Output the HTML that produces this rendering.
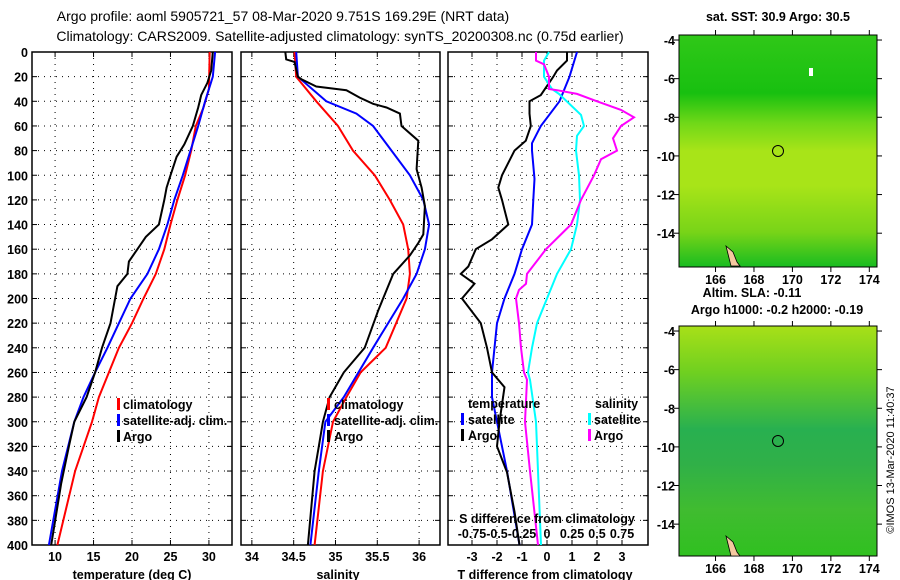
<!DOCTYPE html>
<html><head><meta charset="utf-8"><style>
body{margin:0;background:#fff;}
svg{display:block;font-family:"Liberation Sans",sans-serif;}
text{font-size:12.5px;fill:#000;font-weight:bold;}
</style></head><body>
<svg id="chart" width="900" height="580" viewBox="0 0 900 580" xmlns="http://www.w3.org/2000/svg">
<defs>
<linearGradient id="g1" x1="0" y1="0" x2="0" y2="1">
<stop offset="0" stop-color="#30c818"/><stop offset="0.25" stop-color="#18c010"/><stop offset="0.38" stop-color="#70d818"/><stop offset="0.5" stop-color="#a8e418"/><stop offset="0.65" stop-color="#a8e418"/><stop offset="0.85" stop-color="#78d418"/><stop offset="1" stop-color="#18bc20"/>
</linearGradient>
<linearGradient id="g2" x1="0" y1="0" x2="0" y2="1">
<stop offset="0" stop-color="#a8e018"/><stop offset="0.2" stop-color="#70d020"/><stop offset="0.45" stop-color="#28b050"/><stop offset="0.6" stop-color="#30b048"/><stop offset="0.8" stop-color="#40bc30"/><stop offset="1" stop-color="#30c020"/>
</linearGradient>
</defs>
<text x="283" y="21" text-anchor="middle" style="font-size:14px;font-weight:normal">Argo profile: aoml 5905721_57 08-Mar-2020 9.751S 169.29E (NRT data)</text>
<text x="340" y="41" text-anchor="middle" style="font-size:14px;font-weight:normal">Climatology: CARS2009. Satellite-adjusted climatology: synTS_20200308.nc (0.75d earlier)</text>
<g id="plots"></g>
<rect x="679" y="35" width="198" height="232" fill="url(#g1)" stroke="#000"/>
<rect x="679" y="326" width="198" height="230" fill="url(#g2)" stroke="#000"/>
<rect x="809" y="68" width="4" height="8" fill="#fff"/>
<path d="M726,246 L733,252 L737,262 L740,266 L731,266 Z" fill="#f5c8a0" stroke="#000" stroke-width="0.8"/>
<path d="M726,536 L733,542 L737,552 L740,556 L731,556 Z" fill="#f5c8a0" stroke="#000" stroke-width="0.8"/>
<circle cx="778" cy="151" r="5.5" fill="none" stroke="#000"/>
<circle cx="778" cy="441" r="5.5" fill="none" stroke="#000"/>
<text x="778" y="21" text-anchor="middle">sat. SST: 30.9 Argo: 30.5</text>
<text x="752" y="297" text-anchor="middle">Altim. SLA: -0.11</text>
<text x="777" y="314" text-anchor="middle">Argo h1000: -0.2 h2000: -0.19</text>
<text transform="translate(894,460) rotate(-90)" text-anchor="middle" style="font-size:11px;font-weight:normal">©IMOS 13-Mar-2020 11:40:37</text>
<g id="maps"></g>
</svg>
<script>
const NS="http://www.w3.org/2000/svg";
// ---- data ----
const depthTicks=[0,20,40,60,80,100,120,140,160,180,200,220,240,260,280,300,320,340,360,380,400];
const tempTicks=[10,15,20,25,30];
const salTicks=[34,34.5,35,35.5,36];
const tdiffTicks=[-3,-2,-1,0,1,2,3];
const sdiffTicks=[-0.75,-0.5,-0.25,0,0.25,0.5,0.75];
const sdiffLabels=["-0.75","-0.5","-0.25","0","0.25","0.5","0.75"];
const lonTicks=[166,168,170,172,174];
const latTicks=[-4,-6,-8,-10,-12,-14];

const tClimD=[0,30,45,60,80,100,120,140,160,180,200,220,240,260,280,300,340,400];
const tClim=[30.1,30.0,29.3,28.3,27.7,26.9,25.9,25.0,24.2,23.1,21.5,20.0,18.3,17.0,15.7,14.8,12.6,10.3];
const tSatD=[0,20,40,60,80,100,120,140,160,180,200,220,240,260,280,300,340,400];
const tSat=[30.8,30.5,29.5,28.6,27.6,26.6,25.5,24.6,23.5,22.0,19.8,18.3,16.8,15.2,13.7,12.5,10.9,9.2];
const tArgoD=[0,15,25,35,45,60,75,85,100,110,120,140,150,160,170,180,190,200,220,240,260,280,300,320,350,400];
const tArgo=[30.5,30.3,29.8,29.0,28.6,27.9,26.8,25.8,25.0,24.5,24.2,23.5,21.8,20.7,19.6,19.4,18.1,17.8,17.2,16.1,15.2,14.1,12.5,11.8,10.8,9.5];

const sClimD=[0,20,40,60,80,100,120,140,160,180,200,240,260,280,300,340,400];
const sClim=[34.51,34.53,34.77,35.03,35.21,35.47,35.65,35.81,35.87,35.89,35.85,35.6,35.3,35.13,34.97,34.85,34.75];
const sSatD=[0,20,40,50,60,80,100,120,140,160,180,200,240,280,300,340,400];
const sSat=[34.53,34.55,34.89,35.25,35.45,35.67,35.89,36.05,36.12,36.07,35.97,35.81,35.45,35.1,34.88,34.8,34.7];
const sArgoD=[0,6,8,20,22,28,31,37,42,45,50,60,72,95,110,125,148,155,165,180,200,210,240,260,280,300,320,340,400];
const sArgo=[34.40,34.41,34.51,34.55,34.59,34.77,35.13,35.29,35.45,35.61,35.77,35.79,35.99,35.97,36.03,36.07,36.05,35.99,35.89,35.69,35.57,35.51,35.35,35.1,34.93,34.85,34.8,34.75,34.67];

const dTSatD=[0,20,40,60,74,80,103,120,140,160,180,200,220,240,260,280,300,340,400];
const dTSat=[1.2,0.9,0.5,-0.25,-0.6,-0.6,-0.5,-0.55,-0.6,-1.0,-1.3,-1.7,-2.0,-2.1,-2.2,-2.2,-2.0,-1.6,-1.1];
const dTArgoD=[0,7,15,20,35,40,50,60,72,80,100,110,120,128,140,152,160,174,180,188,200,220,240,260,272,300,320,341,373,400];
const dTArgo=[0.8,0.8,0.4,0.25,-0.25,-0.7,-0.7,-0.65,-0.85,-1.3,-1.8,-1.95,-1.8,-1.7,-1.55,-2.2,-2.85,-3.15,-3.45,-2.9,-3.4,-2.65,-2.4,-2.2,-1.7,-1.9,-2.0,-1.6,-1.3,-1.1];
const dSSatD=[0,7,20,30,34,51,60,68,80,100,120,140,160,180,200,220,240,260,266,300,400];
const dSSat=[0.02,-0.03,-0.03,0.05,0.12,0.34,0.37,0.3,0.29,0.32,0.33,0.3,0.24,0.1,0.0,-0.1,-0.15,-0.19,-0.17,-0.11,-0.06];
const dSArgoD=[0,7,10,20,30,31,34,40,47,53,60,70,80,87,100,120,140,160,180,188,193,200,220,240,260,266,300,340,400];
const dSArgo=[-0.11,-0.11,-0.03,0.02,0.02,0.1,0.3,0.5,0.74,0.87,0.74,0.66,0.7,0.54,0.47,0.34,0.24,-0.01,-0.2,-0.21,-0.28,-0.31,-0.28,-0.26,-0.23,-0.2,-0.22,-0.17,-0.09];

// ---- helpers ----
const svg=document.getElementById('plots');
function el(tag,attrs,parent){const e=document.createElementNS(NS,tag);for(const k in attrs)e.setAttribute(k,attrs[k]);(parent||svg).appendChild(e);return e;}
const Y0=52,Y1=545;
const yD=d=>Y0+(d/400)*(Y1-Y0);
function panel(name,x0,x1,dmin,dmax,ticks,labels,showDepth){
  const g=el('g',{});
  
  
  const xs=v=>x0+(v-dmin)/(dmax-dmin)*(x1-x0);
  depthTicks.forEach(d=>{
    if(d>0&&d<400){const l=el('line',{x1:x0,x2:x1,y1:yD(d),y2:yD(d),stroke:'#000','stroke-dasharray':'1 5'},g);
    }
    el('line',{x1:x0,x2:x0+5,y1:yD(d),y2:yD(d),stroke:'#000'},g);
    el('line',{x1:x1-5,x2:x1,y1:yD(d),y2:yD(d),stroke:'#000'},g);
    if(showDepth){const t=el('text',{x:x0-4,y:yD(d)+5,'text-anchor':'end'},g);t.textContent=d;
      }
  });
  ticks.forEach((v,i)=>{
    const x=xs(v);
    el('line',{x1:x,x2:x,y1:Y0,y2:Y1,stroke:'#000','stroke-dasharray':'1 5'},g);
    el('line',{x1:x,x2:x,y1:Y0,y2:Y0+5,stroke:'#000'},g);
    el('line',{x1:x,x2:x,y1:Y1-5,y2:Y1,stroke:'#000'},g);
    if(labels){const t=el('text',{x:x,y:Y1+16,'text-anchor':'middle'},g);t.textContent=labels[i];
      }
  });
  el('rect',{x:x0,y:Y0,width:x1-x0,height:Y1-Y0,fill:'none',stroke:'#000','stroke-width':1.5},g);
  return {g,xs};
}
function line(p,ds,vs,color,name,xs){
  const pts=ds.map((d,i)=>xs(vs[i]).toFixed(1)+','+yD(d).toFixed(1)).join(' ');
  const l=el('polyline',{points:pts,fill:'none',stroke:color,'stroke-width':2},p.g);
  
  
}
function txt(s,x,y,anchor,name){const t=el('text',{x:x,y:y,'text-anchor':anchor||'start'});t.textContent=s;
  return t;}
function bar(x,y,c){el('rect',{x:x,y:y-11,width:3,height:12,fill:c});}

// Panel 1 temperature
const p1=panel('temperature-panel',32,232,7,33,tempTicks,tempTicks.map(String),true);
line(p1,tClimD,tClim,'#ff0000','temp-climatology-line',p1.xs);
line(p1,tSatD,tSat,'#0000ff','temp-satellite-line',p1.xs);
line(p1,tArgoD,tArgo,'#000','temp-argo-line',p1.xs);
txt('temperature (deg C)',132,579,'middle','temperature-axis-title');
bar(117,409,'#f00');txt('climatology',123,409,'start','legend-climatology');
bar(117,425,'#00f');txt('satellite-adj. clim.',123,425,'start','legend-satellite');
bar(117,441,'#000');txt('Argo',123,441,'start','legend-argo');

// Panel 2 salinity
const p2=panel('salinity-panel',241,440,33.87,36.25,salTicks,['34','34.5','35','35.5','36'],false);
line(p2,sClimD,sClim,'#ff0000','sal-climatology-line',p2.xs);
line(p2,sSatD,sSat,'#0000ff','sal-satellite-line',p2.xs);
line(p2,sArgoD,sArgo,'#000','sal-argo-line',p2.xs);
txt('salinity',338,579,'middle','salinity-axis-title');
bar(327,409,'#f00');txt('climatology',334,409,'start','legend2-climatology');
bar(327,425,'#00f');txt('satellite-adj. clim.',334,425,'start','legend2-satellite');
bar(327,441,'#000');txt('Argo',334,441,'start','legend2-argo');

// Panel 3 differences
const p3=panel('difference-panel',448,648,-3.96,4.04,tdiffTicks,tdiffTicks.map(String),false);
const xsS=v=>p3.xs(v*4);
line(p3,dTSatD,dTSat,'#0000ff','tdiff-satellite-line',p3.xs);
line(p3,dTArgoD,dTArgo,'#000','tdiff-argo-line',p3.xs);
line(p3,dSSatD,dSSat,'#00ffff','sdiff-satellite-line',xsS);
line(p3,dSArgoD,dSArgo,'#ff00ff','sdiff-argo-line',xsS);
txt('T difference from climatology',545,579,'middle','tdiff-axis-title');
txt('S difference from climatology',547,523,'middle','sdiff-axis-title');
sdiffTicks.forEach((v,i)=>txt(sdiffLabels[i],xsS(v),538,'middle','sdiff-tick-label'));
txt('temperature',468,408,'start','legend3-temperature');
txt('salinity',595,408,'start','legend3-salinity');
bar(461,424,'#00f');txt('satellite',468,424,'start','legend3-tsat');
bar(461,440,'#000');txt('Argo',468,440,'start','legend3-targo');
bar(588,424,'#0ff');txt('satellite',594,424,'start','legend3-ssat');
bar(588,440,'#f0f');txt('Argo',594,440,'start','legend3-sargo');

// Map axes
const mg=document.getElementById('maps');
function mapAxes(x0,x1,yTop,yBot,latTop,latBot,name){
  const lon=v=>x0+(v-164.1)/(174.4-164.1)*(x1-x0);
  const lat=v=>yTop+(latTop-v)/(latTop-latBot)*(yBot-yTop);
  lonTicks.forEach(v=>{
    el('line',{x1:lon(v),x2:lon(v),y1:yTop-5,y2:yTop,stroke:'#000'},mg);
    el('line',{x1:lon(v),x2:lon(v),y1:yBot,y2:yBot+5,stroke:'#000'},mg);
    const t=el('text',{x:lon(v),y:yBot+17,'text-anchor':'middle'},mg);t.textContent=v;
    
  });
  latTicks.forEach(v=>{
    el('line',{x1:x0-5,x2:x0,y1:lat(v),y2:lat(v),stroke:'#000'},mg);
    el('line',{x1:x1,x2:x1+5,y1:lat(v),y2:lat(v),stroke:'#000'},mg);
    const t=el('text',{x:x0-4,y:lat(v)+5,'text-anchor':'end'},mg);t.textContent=v;
    
  });
}
mapAxes(679,877,35,267,-3.74,-15.75,'sst-map');
mapAxes(679,877,326,556,-3.74,-15.65,'sla-map');
</script>
</body></html>
